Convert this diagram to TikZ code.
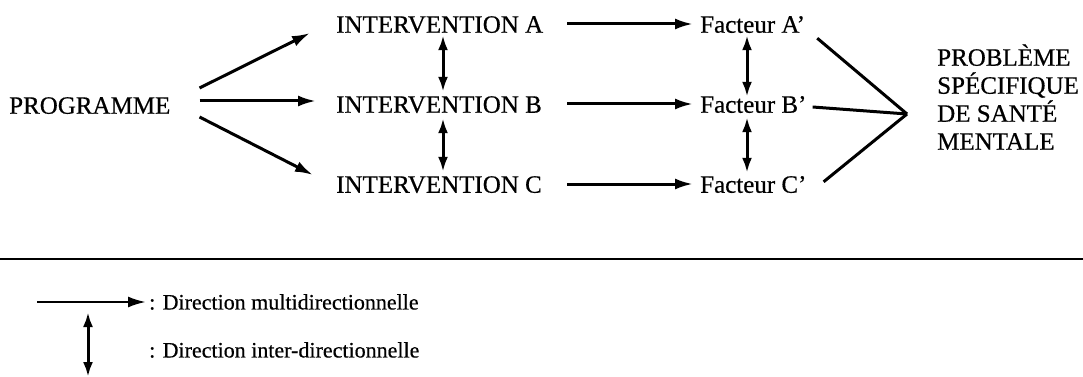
\documentclass[tikz,border=0pt]{standalone}
\usepackage{fontspec}
\setmainfont{Liberation Serif}[FakeBold=0.5]
\usetikzlibrary{arrows.meta}
\tikzset{
  box/.style={inner sep=0pt,anchor=west,font=\fontsize{25}{29}\selectfont,text height=17.5pt,text depth=0pt},
  probbox/.style={inner sep=0pt,anchor=west,align=left,font=\fontsize{25}{28}\selectfont},
  legtxt/.style={inner sep=0pt,anchor=west,font=\fontsize{22}{26}\selectfont},
  arr/.style={line width=3pt,-{Latex[length=18pt,width=11pt]}},
  darr/.style={line width=3pt,{Latex[length=15pt,width=10pt]}-{Latex[length=15pt,width=10pt]}},
  link/.style={line width=3pt},
}
\begin{document}
\begin{tikzpicture}[x=1pt,y=-1pt]
    \useasboundingbox (0,0) rectangle (1083,377);
    % one pixel of the scan is one point here
    \node[box] (prog) at (9,105) {PROGRAMME};
    \foreach \yy/\na in {24/A,104/B,184/C}{
      \node[box] (int\na) at (336,\yy) {INTERVENTION \na};
      \node[box] (fact\na) at (700,\yy) {Facteur \na’};
      \draw[arr] ([xshift=231pt]int\na.west) -- ([xshift=-7pt]fact\na.west);};
    \draw[arr] ([shift={(29pt,17pt)}]prog.east) -- ([shift={(-26pt,-9pt)}]intA.west);
    \draw[arr] ([shift={(29pt,4pt)}]prog.east) -- ([shift={(-20pt,3pt)}]intB.west);
    \draw[arr] ([shift={(29pt,-12pt)}]prog.east) -- ([shift={(-23pt,9pt)}]intC.west);
    % the up/down arrows between the rows
    \draw[darr] ([shift={(107pt,-2.25pt)}]intA.south west) -- ([shift={(107pt,3.25pt)}]intB.north west);
    \draw[darr] ([shift={(107pt,-5.25pt)}]intB.south west) -- ([shift={(107pt,3.25pt)}]intC.north west);
    \draw[darr] ([shift={(47pt,-2.25pt)}]factA.south west) -- ([shift={(47pt,-1.75pt)}]factB.north west);
    \draw[darr] ([shift={(47pt,-4.25pt)}]factB.south west) -- ([shift={(47pt,2.25pt)}]factC.north west);
    \coordinate (tip) at (907,114);
    \node[probbox] (prob) at (937,97) {PROBLÈME\\SPÉCIFIQUE\\DE SANTÉ\\MENTALE};
    \draw[link] ([shift={(12pt,-5.25pt)}]factA.south east) -- (tip);
    \draw[link] ([shift={(6pt,-3pt)}]factB.east) -- (tip);
    \draw[link] ([shift={(17pt,-6.75pt)}]factC.north east) -- (tip);
    % rule and legend
    \draw[line width=2pt] (0,259) -- (1083,259);
    \node[legtxt] (legA) at (149,302) {: Direction multidirectionnelle};
    \node[legtxt] (legB) at (149,350) {: Direction inter-directionnelle};
    \coordinate (lgs) at (37,302);
    \coordinate (lvt) at (88,312);
    \coordinate (lvb) at (88,377);
    \draw[arr,line width=2.4pt] (lgs) -- ([xshift=-3pt]legA.west);
    \draw[darr] (lvt) -- (lvb);
\end{tikzpicture}
\end{document}
